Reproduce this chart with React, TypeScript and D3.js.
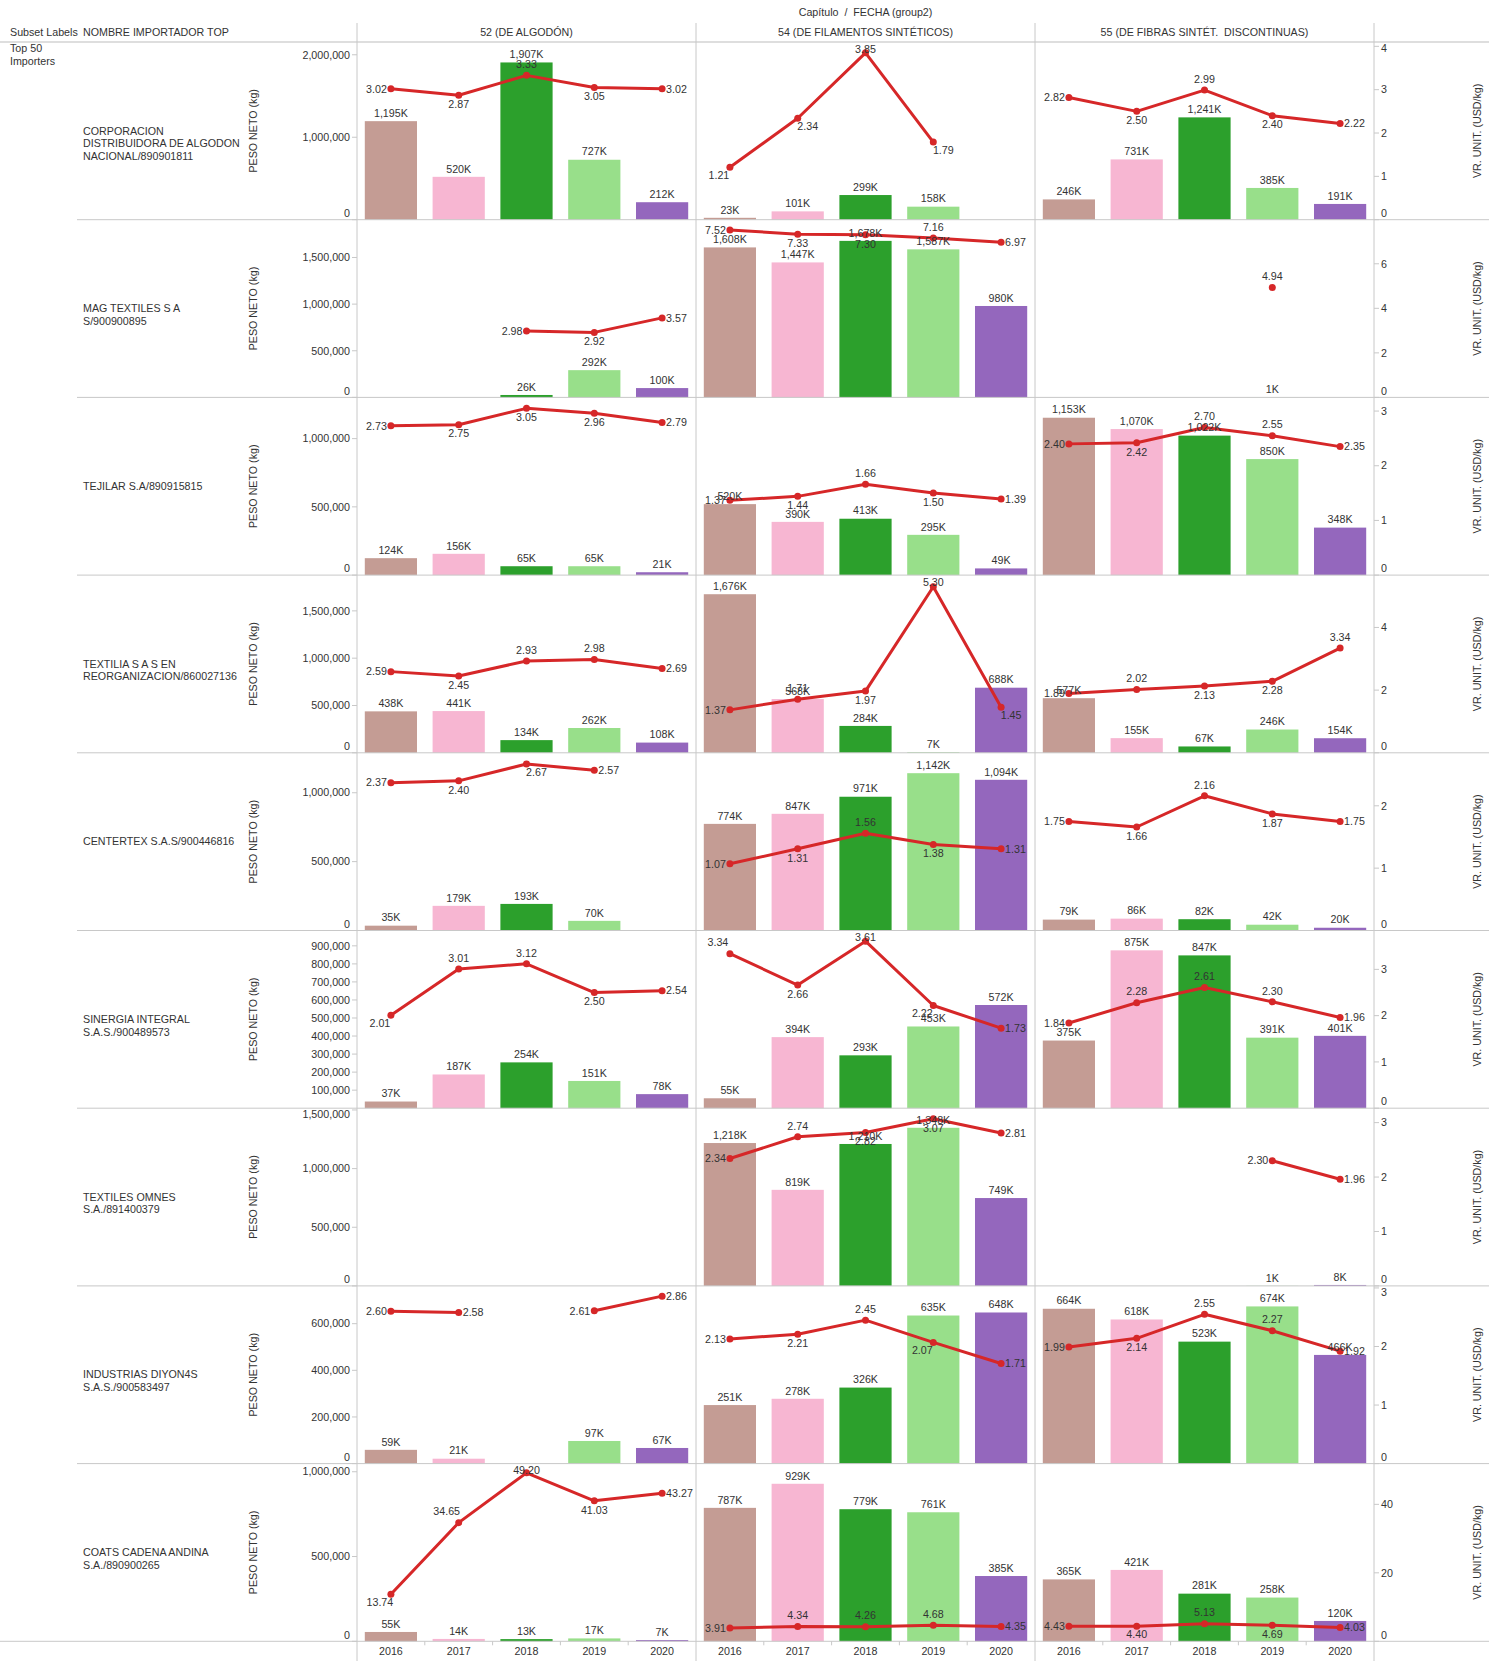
import React from 'react';
import * as d3 from 'd3';

const years = ['2016', '2017', '2018', '2019', '2020'];
const chapters = ['52 (DE ALGODÓN)', '54 (DE FILAMENTOS SINTÉTICOS)', '55 (DE FIBRAS SINTÉT.  DISCONTINUAS)'];
const yearColors = ['#c49c94', '#f7b6d2', '#2ca02c', '#98df8a', '#9467bd'];

const importerNames = [
  ['CORPORACION', 'DISTRIBUIDORA DE ALGODON', 'NACIONAL/890901811'],
  ['MAG TEXTILES S A', 'S/900900895'],
  ['TEJILAR S.A/890915815'],
  ['TEXTILIA S A S EN', 'REORGANIZACION/860027136'],
  ['CENTERTEX S.A.S/900446816'],
  ['SINERGIA INTEGRAL', 'S.A.S./900489573'],
  ['TEXTILES OMNES', 'S.A./891400379'],
  ['INDUSTRIAS DIYON4S', 'S.A.S./900583497'],
  ['COATS CADENA ANDINA', 'S.A./890900265'],
];

// PESO NETO (thousands of kg)
const pesoNeto52 = [
  [1195, 520, 1907, 727, 212],
  [null, null, 26, 292, 100],
  [124, 156, 65, 65, 21],
  [438, 441, 134, 262, 108],
  [35, 179, 193, 70, null],
  [37, 187, 254, 151, 78],
  [null, null, null, null, null],
  [59, 21, null, 97, 67],
  [55, 14, 13, 17, 7],
];
const pesoNeto54 = [
  [23, 101, 299, 158, null],
  [1608, 1447, 1678, 1587, 980],
  [520, 390, 413, 295, 49],
  [1676, 568, 284, 7, 688],
  [774, 847, 971, 1142, 1094],
  [55, 394, 293, 453, 572],
  [1218, 819, 1210, 1348, 749],
  [251, 278, 326, 635, 648],
  [787, 929, 779, 761, 385],
];
const pesoNeto55 = [
  [246, 731, 1241, 385, 191],
  [null, null, null, 1, null],
  [1153, 1070, 1022, 850, 348],
  [577, 155, 67, 246, 154],
  [79, 86, 82, 42, 20],
  [375, 875, 847, 391, 401],
  [null, null, null, 1, 8],
  [664, 618, 523, 674, 466],
  [365, 421, 281, 258, 120],
];

// VR. UNIT. (USD/kg)
const vrUnit52 = [
  [3.02, 2.87, 3.33, 3.05, 3.02],
  [null, null, 2.98, 2.92, 3.57],
  [2.73, 2.75, 3.05, 2.96, 2.79],
  [2.59, 2.45, 2.93, 2.98, 2.69],
  [2.37, 2.40, 2.67, 2.57, null],
  [2.01, 3.01, 3.12, 2.50, 2.54],
  [null, null, null, null, null],
  [2.60, 2.58, null, 2.61, 2.86],
  [13.74, 34.65, 49.20, 41.03, 43.27],
];
const vrUnit54 = [
  [1.21, 2.34, 3.85, 1.79, null],
  [7.52, 7.33, 7.30, 7.16, 6.97],
  [1.37, 1.44, 1.66, 1.50, 1.39],
  [1.37, 1.71, 1.97, 5.30, 1.45],
  [1.07, 1.31, 1.56, 1.38, 1.31],
  [3.34, 2.66, 3.61, 2.22, 1.73],
  [2.34, 2.74, 2.82, 3.07, 2.81],
  [2.13, 2.21, 2.45, 2.07, 1.71],
  [3.91, 4.34, 4.26, 4.68, 4.35],
];
const vrUnit55 = [
  [2.82, 2.50, 2.99, 2.40, 2.22],
  [null, null, null, 4.94, null],
  [2.40, 2.42, 2.70, 2.55, 2.35],
  [1.89, 2.02, 2.13, 2.28, 3.34],
  [1.75, 1.66, 2.16, 1.87, 1.75],
  [1.84, 2.28, 2.61, 2.30, 1.96],
  [null, null, null, 2.30, 1.96],
  [1.99, 2.14, 2.55, 2.27, 1.92],
  [4.43, 4.40, 5.13, 4.69, 4.03],
];

// label placement of line labels (a above, b below, l left, r right, al/bl/br diagonal)
const lblPos52 = [
  ['l', 'b', 'a', 'b', 'r'],
  ['', '', 'l', 'b', 'r'],
  ['l', 'b', 'b', 'b', 'r'],
  ['l', 'b', 'a', 'a', 'r'],
  ['l', 'b', 'br', 'r', ''],
  ['bl', 'a', 'a', 'b', 'r'],
  ['', '', '', '', ''],
  ['l', 'r', '', 'l', 'r'],
  ['bl', 'al', 'a', 'b', 'r'],
];
const lblPos54 = [
  ['bl', 'br', 'a', 'br', ''],
  ['l', 'b', 'b', 'a', 'r'],
  ['l', 'b', 'a', 'b', 'r'],
  ['l', 'a', 'b', 'a', 'br'],
  ['l', 'b', 'a', 'b', 'r'],
  ['al', 'b', 'a', 'bl', 'r'],
  ['l', 'a', 'b', 'b', 'r'],
  ['l', 'b', 'a', 'bl', 'r'],
  ['l', 'a', 'a', 'a', 'r'],
];
const lblPos55 = [
  ['l', 'b', 'a', 'b', 'r'],
  ['', '', '', 'a', ''],
  ['l', 'b', 'a', 'a', 'r'],
  ['l', 'a', 'b', 'b', 'a'],
  ['l', 'b', 'a', 'b', 'r'],
  ['l', 'a', 'a', 'a', 'r'],
  ['', '', '', 'l', 'r'],
  ['l', 'b', 'a', 'a', 'r'],
  ['l', 'b', 'a', 'b', 'r'],
];

// axes per row
const leftAxisMax = [2155, 1905, 1302, 1878, 1290, 985, 1515, 762, 1048];
const leftTicks = [
  [0, 1000, 2000],
  [0, 500, 1000, 1500],
  [0, 500, 1000],
  [0, 500, 1000, 1500],
  [0, 500, 1000],
  [100, 200, 300, 400, 500, 600, 700, 800, 900],
  [0, 500, 1000, 1500],
  [0, 200, 400, 600],
  [0, 500, 1000],
];
const rightAxisMax = [4.1, 7.98, 3.25, 5.67, 2.85, 3.84, 3.265, 3.035, 51.9];
const rightTicks = [
  [0, 1, 2, 3, 4],
  [0, 2, 4, 6],
  [0, 1, 2, 3],
  [0, 2, 4],
  [0, 1, 2],
  [0, 1, 2, 3],
  [0, 1, 2, 3],
  [0, 1, 2, 3],
  [0, 20, 40],
];

const pesoByChapter = [pesoNeto52, pesoNeto54, pesoNeto55];
const vrByChapter = [vrUnit52, vrUnit54, vrUnit55];
const posByChapter = [lblPos52, lblPos54, lblPos55];

const FONT = '"Liberation Sans", Arial, sans-serif';
const FS = 10.7;
const TXT = '#333';
const GRID = '#c8c8c8';
const RED = '#d62728';

export default function App() {
  const W = 1492;
  const H = 1661;
  const rowTop0 = 42;
  const rowH = 177.7;
  const panelX0 = 357;
  const panelW = 339;
  const rightEdge = 1489;
  const nRows = importerNames.length;
  const bottom = rowTop0 + rowH * nRows;

  const xBand = d3.scaleBand<string>().domain(years).range([0, panelW]).paddingInner(0.23).paddingOuter(0.115);
  const fmtK = (v: number) => d3.format(',')(v) + 'K';
  const fmtAxis = d3.format(',');
  const fmt2 = d3.format('.2f');

  const clampY = (y: number, top: number, bot: number, pad = 7) => Math.max(top + pad, Math.min(bot - pad, y));

  const rows: any[] = [];
  for (let r = 0; r < nRows; r++) {
    const top = rowTop0 + rowH * r;
    const bot = top + rowH;
    const yL = d3.scaleLinear().domain([0, leftAxisMax[r]]).range([bot, top]);
    const yR = d3.scaleLinear().domain([0, rightAxisMax[r]]).range([bot, top]);
    const els: any[] = [];

    els.push(
      <text key={`n${r}`} x={83} y={(top + bot) / 2} fontSize={FS} fill={TXT}>
        {importerNames[r].map((ln, i) => (
          <tspan key={i} x={83} dy={i === 0 ? '0.35em' : 12.5}>{ln}</tspan>
        ))}
      </text>
    );
    els.push(
      <text key={`lt${r}`} transform={`translate(253,${(top + bot) / 2}) rotate(-90)`} textAnchor="middle" dy="0.35em" fontSize={FS} fill={TXT}>
        PESO NETO (kg)
      </text>
    );
    els.push(
      <text key={`rt${r}`} transform={`translate(1477,${(top + bot) / 2}) rotate(-90)`} textAnchor="middle" dy="0.35em" fontSize={FS} fill={TXT}>
        VR. UNIT. (USD/kg)
      </text>
    );
    leftTicks[r].forEach((t, i) => {
      const y = yL(t);
      els.push(<line key={`ltk${r}-${i}`} x1={352} x2={357} y1={y} y2={y} stroke={GRID} />);
      els.push(
        <text key={`ltl${r}-${i}`} x={350} y={clampY(y, top, bot, 6.5)} dy="0.35em" textAnchor="end" fontSize={FS} fill={TXT}>
          {fmtAxis(t * 1000)}
        </text>
      );
    });
    rightTicks[r].forEach((t, i) => {
      const y = yR(t);
      els.push(<line key={`rtk${r}-${i}`} x1={1374} x2={1379} y1={y} y2={y} stroke={GRID} />);
      els.push(
        <text key={`rtl${r}-${i}`} x={1381} y={clampY(y, top, bot, 6.5)} dy="0.35em" textAnchor="start" fontSize={FS} fill={TXT}>
          {fmtAxis(t)}
        </text>
      );
    });

    for (let c = 0; c < 3; c++) {
      const px = panelX0 + panelW * c;
      const peso = pesoByChapter[c][r];
      const vr = vrByChapter[c][r];
      const pos = posByChapter[c][r];
      peso.forEach((v, j) => {
        if (v == null) return;
        const x = px + (xBand(years[j]) as number);
        const y = yL(v);
        els.push(<rect key={`b${r}-${c}-${j}`} x={x} y={y} width={xBand.bandwidth()} height={bot - y} fill={yearColors[j]} />);
      });
      const pts = vr.map((v, j) => ({ v, x: px + (xBand(years[j]) as number) + xBand.bandwidth() / 2, j }));
      const line = d3
        .line<any>()
        .defined((d) => d.v != null)
        .x((d) => d.x)
        .y((d) => yR(d.v));
      if (pts.some((d) => d.v != null)) {
        els.push(<path key={`l${r}-${c}`} d={line(pts) || ''} fill="none" stroke={RED} strokeWidth={3} strokeLinejoin="round" />);
      }
      pts.forEach((d) => {
        if (d.v == null) return;
        els.push(<circle key={`c${r}-${c}-${d.j}`} cx={d.x} cy={yR(d.v)} r={3.5} fill={RED} />);
      });
      peso.forEach((v, j) => {
        if (v == null) return;
        const x = px + (xBand(years[j]) as number) + xBand.bandwidth() / 2;
        const y = clampY(yL(v) - 8, top, bot);
        els.push(
          <text key={`bl${r}-${c}-${j}`} x={x} y={y} dy="0.35em" textAnchor="middle" fontSize={FS} fill={TXT}>
            {fmtK(v)}
          </text>
        );
      });
      pts.forEach((d) => {
        if (d.v == null) return;
        const py = yR(d.v);
        const p = pos[d.j];
        let x = d.x;
        let y = py;
        let anchor = 'middle';
        if (p === 'a') y = py - 11;
        else if (p === 'b') y = py + 9;
        else if (p === 'l') { x = d.x - 4; anchor = 'end'; }
        else if (p === 'r') { x = d.x + 4; anchor = 'start'; }
        else if (p === 'al') { x = d.x - 12; y = py - 11; }
        else if (p === 'bl') { x = d.x - 11; y = py + 8; }
        else if (p === 'br') { x = d.x + 10; y = py + 8; }
        els.push(
          <text key={`ll${r}-${c}-${d.j}`} x={x} y={clampY(y, top, bot)} dy="0.35em" textAnchor={anchor} fontSize={FS} fill={TXT}>
            {fmt2(d.v)}
          </text>
        );
      });
    }
    els.push(<line key={`sep${r}`} x1={r === nRows - 1 ? 0 : 77} x2={rightEdge} y1={bot} y2={bot} stroke={GRID} />);
    rows.push(<g key={`row${r}`}>{els}</g>);
  }

  const yearAxis: any[] = [];
  for (let c = 0; c < 3; c++) {
    const px = panelX0 + panelW * c;
    years.forEach((yr, j) => {
      const x = px + (xBand(yr) as number) + xBand.bandwidth() / 2;
      yearAxis.push(
        <text key={`yr${c}-${j}`} x={x} y={1651} dy="0.35em" textAnchor="middle" fontSize={FS} fill={TXT}>
          {yr}
        </text>
      );
      if (j > 0) {
        const bx = px + xBand.step() * j;
        yearAxis.push(<line key={`yt${c}-${j}`} x1={bx} x2={bx} y1={bottom} y2={bottom + 4} stroke={GRID} />);
      }
    });
  }

  return (
    <svg
      width={W}
      height={H}
      style={{ position: 'absolute', left: 0, top: 0, background: '#fff' }}
      fontFamily={FONT}
    >
      <rect x={0} y={0} width={W} height={H} fill="#fff" />
      <text x={(panelX0 + panelX0 + 3 * panelW) / 2} y={12} dy="0.35em" textAnchor="middle" fontSize={FS} fill={TXT} style={{ whiteSpace: 'pre' }}>
        {'Capítulo  /  FECHA (group2)'}
      </text>
      <text x={10} y={32} dy="0.35em" fontSize={FS} fill={TXT}>Subset Labels</text>
      <text x={83} y={32} dy="0.35em" fontSize={FS} fill={TXT}>NOMBRE IMPORTADOR TOP</text>
      {chapters.map((ch, c) => (
        <text key={`ch${c}`} x={panelX0 + panelW * c + panelW / 2} y={32} dy="0.35em" textAnchor="middle" fontSize={FS} fill={TXT} style={{ whiteSpace: 'pre' }}>
          {ch}
        </text>
      ))}
      <text x={10} y={48} dy="0.35em" fontSize={FS} fill={TXT}>Top 50</text>
      <text x={10} y={61} dy="0.35em" fontSize={FS} fill={TXT}>Importers</text>
      <line x1={0} x2={rightEdge} y1={rowTop0} y2={rowTop0} stroke="#bdbdbd" />
      {rows}
      {[0, 1, 2, 3].map((i) => (
        <line key={`v${i}`} x1={panelX0 + panelW * i} x2={panelX0 + panelW * i} y1={23} y2={H} stroke={GRID} />
      ))}
      {yearAxis}
    </svg>
  );
}
